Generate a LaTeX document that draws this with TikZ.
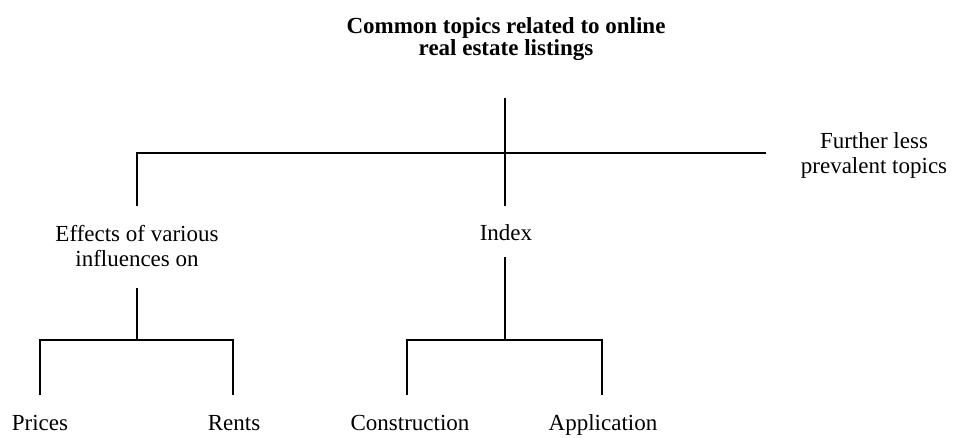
\documentclass[tikz,border=0pt]{standalone}
\usepackage{fontspec}
\setmainfont{Liberation Serif}
\usepackage{tikz}
\usetikzlibrary{positioning}
\tikzstyle{topic}=[inner sep=0pt, align=center, font=\fontsize{23}{25}\selectfont]
\tikzstyle{heading}=[topic, font=\bfseries\fontsize{23}{22}\selectfont]
\tikzstyle{branch}=[line width=2.5pt, line join=miter]
\newcommand{\topic}{\node[topic]}

\begin{document}
\begin{tikzpicture}[x=1pt,y=-1pt]
                    \useasboundingbox (0,0) rectangle (953,437);
                    \node[heading] (root) at (506,39) {Common topics related to online\\real estate listings};
                    \topic (effects) at (137,246) {Effects of various\\influences on};
                    \topic (index) [anchor=base] at (506,240) {Index};
                    \topic (further) at (874,155) {Further less\\prevalent topics};
                    \topic (prices) [anchor=base] at (40,430) {Prices};
                    \topic (rents) [anchor=base] at (234,430) {Rents};
                    \topic (construction) [anchor=base] at (410,430) {Construction};
                    \topic (application) [anchor=base] at (603,430) {Application};
                    % junctions
                    \coordinate (t0) at (505,98);
                    \coordinate (t1) at (505,206);
                    \coordinate (hl) at (137,153);
                    \coordinate (hr) at (766,153);
                    \coordinate (e0) at (137,206);
                    \coordinate (e1) at (137,288);
                    \coordinate (ej) at (137,340);
                    \coordinate (pl) at (40,340);
                    \coordinate (p0) at (40,395);
                    \coordinate (rl) at (233,340);
                    \coordinate (r0) at (233,395);
                    \coordinate (i1) at (505,257);
                    \coordinate (ij) at (505,340);
                    \coordinate (cl) at (407,340);
                    \coordinate (c0) at (407,395);
                    \coordinate (al) at (602,340);
                    \coordinate (a0) at (602,395);
                    \draw[branch] (t0) -- (t1);
                    \draw[branch] (e0) -- (hl) -- (hr);
                    \draw[branch] (e1) -- (ej);
                    \draw[branch] (p0) -- (pl) -- (rl) -- (r0);
                    \draw[branch] (i1) -- (ij);
                    \draw[branch] (c0) -- (cl) -- (al) -- (a0);
                \end{tikzpicture}
\end{document}
